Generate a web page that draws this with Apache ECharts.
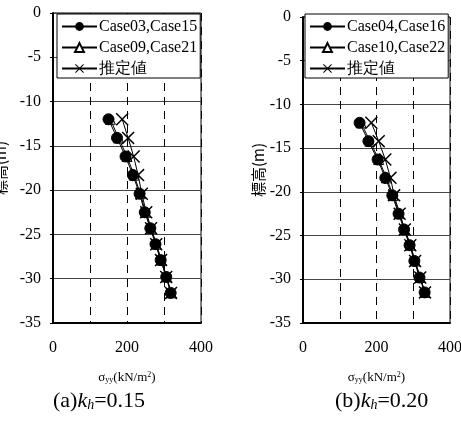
<!DOCTYPE html>
<html><head><meta charset="utf-8">
<script src="https://cdn.jsdelivr.net/npm/echarts@6/dist/echarts.min.js"></script>
<style>html,body{margin:0;padding:0;background:#fff}#c{width:461px;height:437px}</style>
</head><body><div id="c"></div>
<script>
// Depth (elevation, m)
const depthA = [-12, -14.1, -16.2, -18.3, -20.4, -22.5, -24.3, -26.1, -27.9, -29.8, -31.6];
const depthB = [-12.1, -14.2, -16.3, -18.4, -20.4, -22.5, -24.3, -26.1, -27.9, -29.8, -31.5];
// (a) kh=0.15
const namesA = ['Case03,Case15', 'Case09,Case21', '推定値'];
const circA = [150, 173, 196, 216, 234, 248, 263, 277, 291, 306, 318];
const triA  = [155, 177, 200, 219, 236, 250, 265, 279, 293, 307, 320];
const crossA = [187, 203, 218, 230, 240, 252, 265, 279, 292, 306, 319];
// (b) kh=0.20
const namesB = ['Case04,Case16', 'Case10,Case22', '推定値'];
const circB = [154, 178, 203, 224, 243, 260, 275, 290, 303, 317, 331];
const triB  = [158, 182, 206, 227, 245, 262, 277, 292, 305, 319, 332];
const crossB = [186, 206, 224, 238, 248, 263, 277, 292, 305, 319, 332];
// axis ticks
const xTickLabels = ['0', '200', '400'];

const SERIF = '"Liberation Serif","Times New Roman",serif';
const CJK = '"Noto Sans CJK JP","Liberation Serif",serif';
const crossPath = 'path://M0,0.8L0.8,0L5,4.2L9.2,0L10,0.8L5.8,5L10,9.2L9.2,10L5,5.8L0.8,10L0,9.2L4.2,5Z';

function pairs(xs, ys) { return xs.map((v, i) => [v, ys[i]]); }

function xAxis(idx) {
  return {
    gridIndex: idx, type: 'value', min: 0, max: 400, interval: 100,
    name: 'σ{sub|yy}(kN/m{sup|2})', nameLocation: 'middle', nameGap: 48,
    nameTextStyle: {
      fontFamily: SERIF, fontSize: 13, color: '#000',
      rich: {
        sub: { fontFamily: SERIF, fontSize: 8, verticalAlign: 'bottom', color: '#000' },
        sup: { fontFamily: SERIF, fontSize: 8, verticalAlign: 'top', color: '#000' }
      }
    },
    axisLine: { show: true, onZero: false, lineStyle: { color: '#000', width: 2 } },
    axisTick: { show: false },
    axisLabel: {
      fontFamily: SERIF, fontSize: 16, color: '#000', margin: 17,
      formatter: v => xTickLabels.includes(String(v)) ? String(v) : ''
    },
    splitLine: { show: true, lineStyle: { color: '#000', type: [8, 6], width: 1 } }
  };
}
function yAxis(idx, gap) {
  return {
    gridIndex: idx, type: 'value', min: -35, max: 0, interval: 5,
    name: '標高(m)', nameLocation: 'middle', nameGap: gap, nameRotate: 90,
    nameTextStyle: { fontFamily: CJK, fontSize: 15, color: '#000' },
    axisLine: { show: true, onZero: false, lineStyle: { color: '#000', width: 2 } },
    axisTick: { show: true, length: 3, lineStyle: { color: '#000' } },
    axisLabel: { fontFamily: SERIF, fontSize: 16, color: '#000', margin: 12 },
    splitLine: { show: true, lineStyle: { color: '#444', width: 1 } }
  };
}
function legend(left, data) {
  return {
    left: left, top: 14, orient: 'vertical',
    data: data,
    backgroundColor: '#fff', borderColor: '#000', borderWidth: 1,
    padding: [4, 3, 1, 4], itemGap: 4, itemWidth: 35, itemHeight: 11,
    textStyle: { fontFamily: SERIF, fontSize: 16, color: '#000', lineHeight: 17, padding: [0, 0, 0, -3] },
    z: 10
  };
}
function mkSeries(name, idx, data, kind) {
  const base = {
    name: name, type: 'line', xAxisIndex: idx, yAxisIndex: idx, data: data,
    lineStyle: { color: '#000', width: 1 }, animation: false,
  };
  if (kind === 'circle') {
    base.symbol = 'circle'; base.symbolSize = 11;
    base.itemStyle = { color: '#000', borderColor: '#000' }; base.z = 5;
  } else if (kind === 'tri') {
    base.symbol = 'triangle'; base.symbolSize = 10;
    base.itemStyle = { color: '#fff', borderColor: '#000', borderWidth: 1 }; base.z = 3;
  } else {
    base.symbol = crossPath; base.symbolSize = 13;
    base.itemStyle = { color: '#000', borderColor: '#000', borderWidth: 0 }; base.z = 4;
  }
  return base;
}

const chart = echarts.init(document.getElementById('c'), null, { renderer: 'canvas' });
chart.setOption({
  backgroundColor: '#fff',
  animation: false,
  grid: [
    { left: 53, top: 13, width: 148, height: 310, show: true, borderColor: '#000', borderWidth: 1, backgroundColor: 'transparent', containLabel: false, outerBoundsMode: 'none' },
    { left: 303, top: 17, width: 147, height: 306, show: true, borderColor: '#000', borderWidth: 1, backgroundColor: 'transparent', containLabel: false, outerBoundsMode: 'none' }
  ],
  xAxis: [xAxis(0), xAxis(1)],
  yAxis: [yAxis(0, 45), yAxis(1, 37)],
  legend: [legend(57, namesA), legend(305, namesB)],
  series: [
    mkSeries(namesA[0], 0, pairs(circA, depthA), 'circle'),
    mkSeries(namesA[1], 0, pairs(triA, depthA), 'tri'),
    mkSeries(namesA[2], 0, pairs(crossA, depthA), 'cross'),
    mkSeries(namesB[0], 1, pairs(circB, depthB), 'circle'),
    mkSeries(namesB[1], 1, pairs(triB, depthB), 'tri'),
    mkSeries(namesB[2], 1, pairs(crossB, depthB), 'cross')
  ],
  graphic: [
    { type: 'text', left: 53, top: 390, style: {
      text: '(a){i|k}{s|h}=0.15', font: '22px ' + SERIF, fill: '#000',
      rich: { i: { fontStyle: 'italic', fontFamily: SERIF, fontSize: 22 }, s: { fontStyle: 'italic', fontFamily: SERIF, fontSize: 14, verticalAlign: 'bottom' } }
    } },
    { type: 'text', left: 335, top: 390, style: {
      text: '(b){i|k}{s|h}=0.20', font: '22px ' + SERIF, fill: '#000',
      rich: { i: { fontStyle: 'italic', fontFamily: SERIF, fontSize: 22 }, s: { fontStyle: 'italic', fontFamily: SERIF, fontSize: 14, verticalAlign: 'bottom' } }
    } }
  ]
});
</script>
</body></html>
